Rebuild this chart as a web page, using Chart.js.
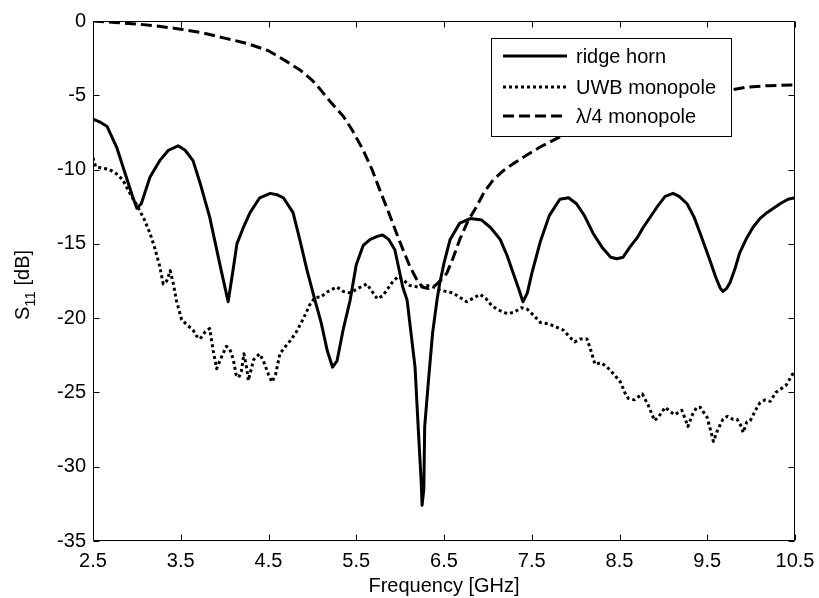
<!DOCTYPE html>
<html><head><meta charset="utf-8">
<script src="https://cdn.jsdelivr.net/npm/chart.js@4/dist/chart.umd.min.js"></script>
<style>html,body{margin:0;padding:0;background:#fff;overflow:hidden}canvas{display:block}</style>
</head><body>
<canvas id="c" width="819" height="598" style="width:819px;height:598px"></canvas>
<script>
// ---- data ----
const xTickValues = [2.5, 3.5, 4.5, 5.5, 6.5, 7.5, 8.5, 9.5, 10.5];
const yTickValues = [0, -5, -10, -15, -20, -25, -30, -35];
const seriesNames = ['ridge horn', 'UWB monopole', '\u03bb/4 monopole'];

const hornFreq = [2.5,2.58,2.66,2.77,2.89,2.95,3.0,3.05,3.1,3.15,3.26,3.36,3.47,3.55,3.64,3.72,3.83,3.95,4.04,4.09,4.14,4.22,4.29,4.4,4.52,4.6,4.67,4.78,4.86,4.94,5.03,5.1,5.17,5.23,5.28,5.35,5.43,5.5,5.58,5.66,5.74,5.8,5.87,5.94,6.03,6.08,6.12,6.17,6.21,6.24,6.25,6.27,6.28,6.32,6.37,6.42,6.45,6.5,6.57,6.68,6.8,6.93,7.03,7.14,7.22,7.29,7.35,7.4,7.45,7.5,7.6,7.7,7.82,7.92,8.01,8.1,8.2,8.31,8.4,8.47,8.54,8.62,8.7,8.77,8.93,9.02,9.11,9.18,9.27,9.35,9.42,9.53,9.6,9.65,9.68,9.72,9.76,9.82,9.87,9.95,10.02,10.1,10.18,10.33,10.42,10.5];
const hornDb = [-6.6,-6.8,-7.1,-8.5,-10.7,-11.8,-12.6,-12.3,-11.4,-10.5,-9.4,-8.7,-8.4,-8.7,-9.4,-10.9,-13.2,-16.5,-18.9,-17.0,-15.0,-13.8,-12.9,-11.9,-11.6,-11.7,-11.9,-12.9,-14.8,-16.8,-18.8,-20.3,-22.2,-23.3,-22.9,-20.8,-18.8,-16.4,-15.1,-14.7,-14.5,-14.4,-14.7,-15.4,-17.9,-18.8,-20.8,-23.3,-27.8,-31.0,-32.6,-31.5,-27.3,-24.4,-21.0,-18.8,-17.7,-16.3,-14.7,-13.6,-13.3,-13.4,-13.9,-14.7,-15.8,-17.0,-18.0,-18.9,-18.3,-17.0,-14.8,-13.1,-12.0,-11.9,-12.3,-13.1,-14.3,-15.3,-15.9,-16.0,-15.9,-15.2,-14.6,-13.9,-12.5,-11.8,-11.6,-11.8,-12.3,-13.2,-14.3,-16.1,-17.3,-18.0,-18.2,-18.0,-17.6,-16.6,-15.6,-14.6,-13.9,-13.3,-12.9,-12.3,-12.0,-11.9];

const uwbFreq = [2.5,2.53,2.6,2.69,2.77,2.84,2.92,3.0,3.08,3.15,3.2,3.26,3.3,3.34,3.38,3.42,3.45,3.51,3.58,3.64,3.68,3.72,3.78,3.83,3.87,3.91,3.95,4.02,4.06,4.1,4.13,4.16,4.19,4.22,4.25,4.27,4.3,4.33,4.36,4.4,4.45,4.5,4.54,4.58,4.63,4.68,4.75,4.82,4.9,4.97,5.03,5.09,5.18,5.28,5.35,5.43,5.52,5.62,5.68,5.74,5.8,5.85,5.92,5.98,6.05,6.11,6.2,6.3,6.38,6.45,6.52,6.6,6.68,6.76,6.85,6.91,6.98,7.05,7.14,7.22,7.3,7.38,7.45,7.52,7.6,7.7,7.78,7.86,7.92,7.99,8.05,8.13,8.18,8.22,8.29,8.36,8.44,8.51,8.56,8.6,8.67,8.76,8.83,8.9,8.95,9.02,9.08,9.13,9.21,9.25,9.28,9.33,9.38,9.42,9.5,9.54,9.57,9.62,9.68,9.73,9.79,9.84,9.88,9.91,9.95,9.99,10.05,10.1,10.16,10.22,10.28,10.33,10.4,10.45,10.5];
const uwbDb = [-9.2,-9.8,-9.9,-10.0,-10.3,-10.7,-11.6,-12.4,-13.3,-14.3,-15.2,-16.5,-17.7,-17.5,-16.8,-17.8,-18.8,-20.1,-20.5,-20.8,-21.2,-21.4,-20.9,-20.7,-22.2,-23.4,-22.8,-21.9,-22.1,-22.8,-23.8,-24.0,-23.6,-22.4,-23.3,-24.2,-23.5,-22.8,-22.6,-22.4,-23.0,-23.8,-24.3,-23.8,-22.4,-22.0,-21.5,-20.9,-20.0,-19.1,-18.6,-18.6,-18.2,-17.9,-18.2,-18.3,-18.0,-17.7,-18.2,-18.7,-18.5,-18.1,-17.5,-17.2,-17.5,-17.8,-17.9,-17.8,-17.9,-18.1,-18.2,-18.3,-18.6,-18.9,-18.6,-18.4,-18.7,-19.2,-19.5,-19.7,-19.6,-19.3,-19.4,-19.8,-20.3,-20.4,-20.6,-20.8,-21.2,-21.6,-21.4,-21.4,-22.3,-23.1,-23.0,-23.3,-23.8,-24.3,-25.0,-25.4,-25.5,-25.1,-25.9,-26.9,-26.6,-26.0,-26.3,-26.5,-26.2,-26.8,-27.3,-26.5,-26.0,-26.0,-26.7,-27.6,-28.3,-27.5,-26.8,-26.6,-26.8,-26.8,-27.2,-27.7,-27.0,-26.9,-26.2,-25.7,-25.5,-25.6,-25.0,-24.8,-24.5,-24.0,-23.5];

const quarterFreq = [2.5,2.75,3.0,3.25,3.5,3.75,4.0,4.25,4.5,4.7,4.86,5.0,5.09,5.2,5.35,5.45,5.58,5.68,5.77,5.87,5.96,6.04,6.11,6.18,6.25,6.32,6.4,6.47,6.53,6.6,6.68,6.77,6.87,6.96,7.06,7.17,7.29,7.45,7.59,7.82,8.1,8.4,8.7,9.0,9.3,9.6,9.77,9.95,10.2,10.5];
const quarterDb = [0.0,-0.1,-0.2,-0.35,-0.55,-0.8,-1.15,-1.5,-2.0,-2.7,-3.3,-4.0,-4.6,-5.4,-6.4,-7.3,-8.7,-10.0,-11.4,-12.9,-14.3,-15.5,-16.5,-17.3,-17.9,-18.0,-17.8,-17.4,-17.0,-16.0,-14.7,-13.5,-12.5,-11.5,-10.7,-10.1,-9.6,-9.0,-8.5,-7.8,-7.0,-6.3,-5.8,-5.4,-5.1,-4.8,-4.65,-4.45,-4.35,-4.3];

// ---- chart ----
const FONT = '"Liberation Sans", Arial, Helvetica, sans-serif';
const pts = (xs, ys) => xs.map((x, i) => ({x, y: ys[i]}));
const styles = [
  {borderDash: []},
  {borderDash: [3, 3]},
  {borderDash: [11, 5]}
];

const framePlugin = {
  id: 'frame',
  afterDatasetsDraw(chart) {
    const {ctx, chartArea: a, scales: {x, y}} = chart;
    ctx.save();
    ctx.strokeStyle = '#000';
    ctx.lineWidth = 1;
    const L = Math.round(a.left) + 0.5, R = Math.round(a.right) - 0.5;
    const T = Math.round(a.top) + 0.5, B = Math.round(a.bottom) - 0.5;
    ctx.beginPath();
    ctx.rect(L, T, R - L, B - T);
    const tl = 6;
    xTickValues.forEach(v => {
      const px = Math.round(x.getPixelForValue(v)) + 0.5;
      ctx.moveTo(px, B); ctx.lineTo(px, B - tl);
      ctx.moveTo(px, T); ctx.lineTo(px, T + tl);
    });
    yTickValues.forEach(v => {
      const py = Math.round(y.getPixelForValue(v)) + 0.5;
      ctx.moveTo(L, py); ctx.lineTo(L + tl, py);
      ctx.moveTo(R, py); ctx.lineTo(R - tl, py);
    });
    ctx.stroke();

    // legend box
    const bx = 491, by = 38, bw = 240, bh = 98;
    ctx.fillStyle = '#fff';
    ctx.fillRect(bx, by, bw, bh);
    ctx.strokeRect(bx + 0.5, by + 0.5, bw, bh);
    const rows = [56, 87, 116];
    chart.data.datasets.forEach((ds, i) => {
      ctx.save();
      ctx.lineWidth = ds.borderWidth;
      ctx.setLineDash(ds.borderDash || []);
      ctx.lineCap = 'butt';
      ctx.beginPath();
      ctx.moveTo(503, rows[i]); ctx.lineTo(567, rows[i]);
      ctx.stroke();
      ctx.restore();
      ctx.fillStyle = '#000';
      ctx.font = '20px ' + FONT;
      ctx.textBaseline = 'middle';
      ctx.textAlign = 'left';
      ctx.fillText(ds.label, 576, rows[i] + 1);
    });

    // y axis title with subscript
    ctx.save();
    const big = '20px ' + FONT, small = '15px ' + FONT;
    ctx.font = big; const wS = ctx.measureText('S').width;
    const wU = ctx.measureText(' [dB]').width;
    ctx.font = small; const w11 = ctx.measureText('11').width;
    const total = wS + w11 + wU;
    const cy = (a.top + a.bottom) / 2 + 4;
    ctx.translate(29, cy + total / 2);
    ctx.rotate(-Math.PI / 2);
    ctx.fillStyle = '#000';
    ctx.textBaseline = 'alphabetic';
    ctx.textAlign = 'left';
    ctx.font = big; ctx.fillText('S', 0, 0);
    ctx.font = small; ctx.fillText('11', wS, 6);
    ctx.font = big; ctx.fillText(' [dB]', wS + w11, 0);
    ctx.restore();
    ctx.restore();
  }
};

new Chart(document.getElementById('c'), {
  type: 'scatter',
  data: {
    datasets: [
      {label: seriesNames[0], data: pts(hornFreq, hornDb)},
      {label: seriesNames[1], data: pts(uwbFreq, uwbDb)},
      {label: seriesNames[2], data: pts(quarterFreq, quarterDb)}
    ].map((d, i) => Object.assign(d, {
      showLine: true, borderColor: '#000', backgroundColor: '#000',
      borderWidth: 3, pointRadius: 0, tension: 0, borderCapStyle: 'butt',
      borderJoinStyle: 'round'
    }, styles[i]))
  },
  options: {
    responsive: false, animation: false, devicePixelRatio: 1,
    layout: {padding: {left: 0, right: 24, top: 21, bottom: 0}},
    plugins: {legend: {display: false}, tooltip: {enabled: false}},
    scales: {
      x: {
        type: 'linear', min: 2.5, max: 10.5,
        afterBuildTicks: s => { s.ticks = xTickValues.map(v => ({value: v})); },
        afterFit: s => { s.height = 57; s.paddingLeft = 0; s.paddingRight = 0; },
        grid: {display: false, drawTicks: false},
        border: {display: false},
        ticks: {color: '#000', font: {family: FONT, size: 20}, padding: 8, maxRotation: 0, autoSkip: false,
          callback: v => Number(v).toFixed(1)},
        title: {display: true, text: 'Frequency [GHz]', color: '#000', font: {family: FONT, size: 20}, padding: {top: 0, bottom: 0}}
      },
      y: {
        type: 'linear', min: -35, max: 0,
        afterBuildTicks: s => { s.ticks = yTickValues.map(v => ({value: v})); },
        afterFit: s => { s.width = 93; s.paddingTop = 0; s.paddingBottom = 0; },
        grid: {display: false, drawTicks: false},
        border: {display: false},
        ticks: {color: '#000', font: {family: FONT, size: 20}, padding: 7, autoSkip: false,
          callback: v => String(v)}
      }
    }
  },
  plugins: [framePlugin]
});
</script>
</body></html>
